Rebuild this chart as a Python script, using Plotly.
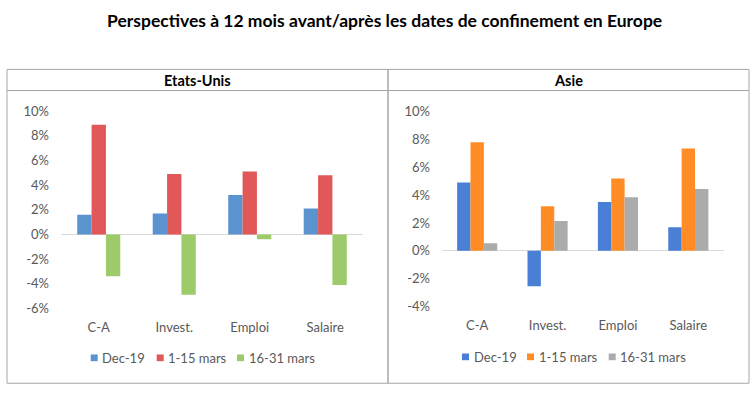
import plotly.graph_objects as go

# ---------------- data ----------------
categories = ["C-A", "Invest.", "Emploi", "Salaire"]
series_names = ["Dec-19", "1-15 mars", "16-31 mars"]

us_dec19 = [1.6, 1.7, 3.2, 2.1]
us_mars_1_15 = [8.9, 4.9, 5.1, 4.8]
us_mars_16_31 = [-3.4, -4.9, -0.4, -4.1]

asia_dec19 = [4.9, -2.55, 3.5, 1.7]
asia_mars_1_15 = [7.8, 3.2, 5.2, 7.35]
asia_mars_16_31 = [0.55, 2.15, 3.85, 4.45]

us_tickvals = [-6, -4, -2, 0, 2, 4, 6, 8, 10]
us_ticktext = ["-6%", "-4%", "-2%", "0%", "2%", "4%", "6%", "8%", "10%"]
asia_tickvals = [-4, -2, 0, 2, 4, 6, 8, 10]
asia_ticktext = ["-4%", "-2%", "0%", "2%", "4%", "6%", "8%", "10%"]

main_title = "Perspectives à 12 mois avant/après les dates de confinement en Europe"
panel_titles = ["Etats-Unis", "Asie"]

us_colors = ["#5B93CF", "#E05858", "#9DCB6A"]
asia_colors = ["#4A7FD6", "#FF8C24", "#ABABAB"]

# ---------------- layout helpers ----------------
W, H = 754, 397
FONT = "Lato, 'Open Sans', sans-serif"
TICK_COLOR = "#595959"
BORDER = "#A6A6A6"


def X(px):
    return px / W


def Y(py):
    return 1 - py / H


fig = go.Figure()

us_values = [us_dec19, us_mars_1_15, us_mars_16_31]
asia_values = [asia_dec19, asia_mars_1_15, asia_mars_16_31]

for name, vals, col in zip(series_names, us_values, us_colors):
    fig.add_trace(go.Bar(x=categories, y=vals, name=name, marker_color=col,
                         marker_line_width=0, xaxis="x", yaxis="y",
                         showlegend=False, hovertemplate="%{x}: %{y}%<extra>" + name + "</extra>"))
for name, vals, col in zip(series_names, asia_values, asia_colors):
    fig.add_trace(go.Bar(x=categories, y=vals, name=name, marker_color=col,
                         marker_line_width=0, xaxis="x2", yaxis="y2",
                         showlegend=False, hovertemplate="%{x}: %{y}%<extra>" + name + "</extra>"))

xcommon = dict(type="category", range=[-0.5, 3.5], showline=False, showgrid=False,
               zeroline=False, ticks="", tickfont=dict(size=13, color=TICK_COLOR, family=FONT),
               ticklabelstandoff=10, fixedrange=True)
ycommon = dict(showline=False, showgrid=False, zeroline=True, zerolinecolor="#D9D9D9",
               zerolinewidth=1, ticks="", tickfont=dict(size=13, color=TICK_COLOR, family=FONT),
               ticklabelstandoff=11, fixedrange=True)

fig.update_layout(
    width=W, height=H,
    margin=dict(l=0, r=0, t=0, b=0),
    paper_bgcolor="white", plot_bgcolor="white",
    barmode="group", bargap=0.43, bargroupgap=0,
    font=dict(family=FONT),
    showlegend=False,
    xaxis=dict(domain=[X(61), X(363)], anchor="y", **xcommon),
    yaxis=dict(domain=[Y(313), Y(107.5)], anchor="x", range=[-6, 10],
               tickvals=us_tickvals, ticktext=us_ticktext, **ycommon),
    xaxis2=dict(domain=[X(442), X(723.5)], anchor="y2", **xcommon),
    yaxis2=dict(domain=[Y(311), Y(108)], anchor="x2", range=[-4, 10],
                tickvals=asia_tickvals, ticktext=asia_ticktext, **ycommon),
)

shapes = []
annotations = []

# panel frames
for (x0, x1) in [(7, 388), (388, 749)]:
    shapes.append(dict(type="rect", xref="paper", yref="paper", x0=X(x0), x1=X(x1),
                       y0=Y(391), y1=Y(64), line=dict(color=BORDER, width=1)))
shapes.append(dict(type="line", xref="paper", yref="paper", x0=X(7), x1=X(749),
                   y0=Y(86), y1=Y(86), line=dict(color=BORDER, width=1)))

# main title
annotations.append(dict(text="<b>" + main_title + "</b>", xref="paper", yref="paper",
                        x=X(384), y=Y(13.5), xanchor="center", yanchor="middle", showarrow=False,
                        font=dict(size=17.5, color="black", family=FONT)))
# panel titles
for title, cx in zip(panel_titles, [197.5, 568.5]):
    annotations.append(dict(text="<b>" + title + "</b>", xref="paper", yref="paper",
                            x=X(cx), y=Y(75.5), xanchor="center", yanchor="middle",
                            showarrow=False, font=dict(size=14.5, color="black", family=FONT)))

# legends (swatch + text)
legend_specs = [
    (us_colors, [90.7, 156.7, 237.0], [100.0, 166.0, 247.0], 364.5),
    (asia_colors, [462.0, 527.0, 608.7], [472.0, 537.0, 618.0], 363.5),
]
for colors, sq_x, tx_x, ly in legend_specs:
    for name, col, sx, tx in zip(series_names, colors, sq_x, tx_x):
        shapes.append(dict(type="rect", xref="paper", yref="paper", x0=X(sx), x1=X(sx + 7),
                           y0=Y(ly + 3.5), y1=Y(ly - 3.5), fillcolor=col, line=dict(width=0)))
        annotations.append(dict(text=name, xref="paper", yref="paper", x=X(tx), y=Y(ly),
                                xanchor="left", yanchor="middle", showarrow=False,
                                font=dict(size=13, color=TICK_COLOR, family=FONT)))

fig.update_layout(shapes=shapes, annotations=annotations)

fig.write_html("out.html", config={"displayModeBar": False},
               post_script="document.body.style.margin='0';document.body.style.overflow='hidden';")
